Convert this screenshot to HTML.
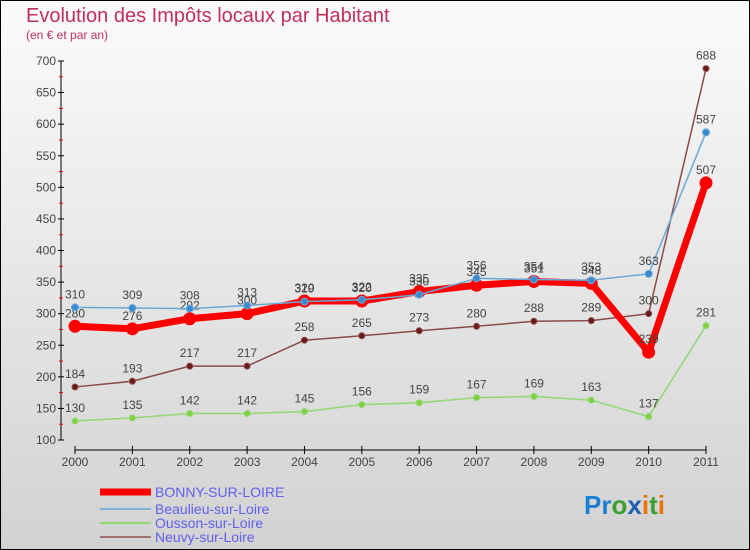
<!DOCTYPE html>
<html><head><meta charset="utf-8"><style>
body{margin:0}
#c{width:750px;height:550px;position:relative;overflow:hidden}
svg text{font-family:"Liberation Sans",sans-serif}
</style></head><body>
<div id="c">
<svg id="s" width="750" height="550">
<defs><linearGradient id="bg" x1="0" y1="0" x2="0" y2="1"><stop offset="0" stop-color="#fbfbfb"/><stop offset="1" stop-color="#d2d2d2"/></linearGradient></defs>
<rect x="0.5" y="0.5" width="749" height="549" fill="url(#bg)" stroke="#000"/>
<text x="26" y="22" font-size="20" fill="#c0305a">Evolution des Impôts locaux par Habitant</text>
<text x="26" y="39" font-size="12" fill="#c0305a">(en € et par an)</text>
<g id="axes"></g><g id="series"></g><g id="legend"></g>
<text x="584" y="514" font-size="26" font-weight="bold"><tspan fill="#1a7fd0">Pr</tspan><tspan fill="#3aa030">o</tspan><tspan fill="#1a5fb0">x</tspan><tspan fill="#f07000">i</tspan><tspan fill="#3aa030">t</tspan><tspan fill="#f07000">i</tspan></text>
</svg></div>
<script>
const years=[2000,2001,2002,2003,2004,2005,2006,2007,2008,2009,2010,2011];
const bonny=[280,276,292,300,320,320,335,345,351,348,239,507];
const beaulieu=[310,309,308,313,319,322,330,356,354,353,363,587];
const ousson=[130,135,142,142,145,156,159,167,169,163,137,281];
const neuvy=[184,193,217,217,258,265,273,280,288,289,300,688];
const yTicks=[100,150,200,250,300,350,400,450,500,550,600,650,700];
const NS="http://www.w3.org/2000/svg";
const X=i=>75+i*(706-75)/11;
const Y=v=>440-(v-100)*(440-61)/600;
function mk(t,a,p){const e=document.createElementNS(NS,t);for(const k in a)e.setAttribute(k,a[k]);p.appendChild(e);return e;}
const ax=document.getElementById('axes');
let l=mk('line',{x1:61,y1:61,x2:61,y2:440,stroke:'#000'},ax);

l=mk('line',{x1:75,y1:450,x2:706,y2:450,stroke:'#000'},ax);

yTicks.forEach(v=>{mk('line',{x1:58,y1:Y(v),x2:64,y2:Y(v),stroke:'#000'},ax);
 if(v<700)mk('line',{x1:59,y1:Y(v+25),x2:63,y2:Y(v+25),stroke:'#e00'},ax);
 const t=mk('text',{x:56,y:Y(v)+4,'font-size':12,fill:'#444','text-anchor':'end'},ax);t.textContent=v;
 });
years.forEach((y,i)=>{mk('line',{x1:X(i),y1:446,x2:X(i),y2:454,stroke:'#000'},ax);
 const t=mk('text',{x:X(i),y:466,'font-size':12,fill:'#444','text-anchor':'middle'},ax);t.textContent=y;
 });
const sg=document.getElementById('series');
function draw(data,name,col,w,r,fill){
 const g=mk('g',{},sg);
 const p=mk('polyline',{points:data.map((v,i)=>X(i)+','+Y(v)).join(' '),fill:'none',stroke:col,'stroke-width':w,'stroke-linejoin':'round'},g);
 
 data.forEach((v,i)=>{const c=mk('circle',{cx:X(i),cy:Y(v),r:r,fill:fill,stroke:col,'stroke-width':1},g);
  
  const t=mk('text',{x:X(i),y:Y(v)-9,'font-size':12,fill:'#444','text-anchor':'middle'},g);t.textContent=v;
  });
}
draw(ousson,'ousson','#90d870',1.5,3,'#80d040');
draw(neuvy,'neuvy','#8a4a4a',1.5,3,'#6a1a1a');
draw(bonny,'bonny','#f00',7,6,'#f00');
draw(beaulieu,'beaulieu','#6aa8d8',1.5,3.5,'#3a8ad0');
const lg=document.getElementById('legend');
[['BONNY-SUR-LOIRE','#f00',7,492],['Beaulieu-sur-Loire','#80b0d8',2,509],['Ousson-sur-Loire','#90d870',2,523],['Neuvy-sur-Loire','#a07070',2,537]].forEach(([n,c,w,y])=>{
 const g=mk('g',{},lg);
 mk('line',{x1:100,y1:y,x2:151,y2:y,stroke:c,'stroke-width':w},g);
 const t=mk('text',{x:155,y:y+5,'font-size':14,fill:'#6060f0'},g);t.textContent=n;});
</script></body></html>
